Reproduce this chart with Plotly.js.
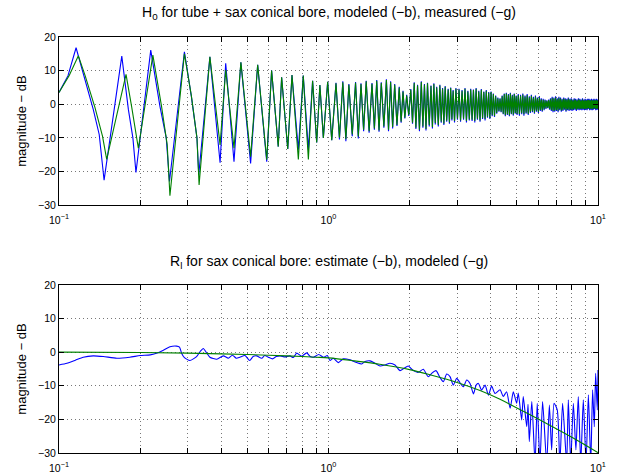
<!DOCTYPE html>
<html><head><meta charset="utf-8">
<script src="https://cdn.plot.ly/plotly-3.0.1.min.js"></script>
<style>html,body{margin:0;padding:0;background:#fff;}#chart{width:619px;height:475px;}</style>
</head><body><div id="chart"></div>
<script>
// ---------- top panel: H0 ----------
const fLowModel = [0.100,0.108,0.1157,0.123,0.134,0.141,0.147,0.171,0.181,0.188,0.193,0.219,0.237,0.250,0.257,0.292,0.310,0.325,0.330,0.363,0.396,0.4155,0.446,0.473,0.514,0.546,0.590,0.615,0.651,0.670,0.706,0.732,0.773,0.806,0.842,0.873,0.904,0.929,0.957,0.993,1.028];
const h0LowModel = [3.5,8.5,16.8,9.2,-1.5,-9.0,-22.6,14.3,-1.7,-10.0,-20.3,16.1,-0.7,-10.0,-23.0,15.6,2.2,-10.0,-21.0,14.1,-17.4,12.2,-17.1,12.5,-17.6,11.7,-17.1,10.0,-12.6,8.0,-13.3,8.7,-13.5,8.5,-13.5,7.0,-11.4,5.7,-10.0,6.7,-10.7];
const fLowMeas = [0.100,0.109,0.118,0.125,0.136,0.145,0.1503,0.1773,0.186,0.197,0.223,0.240,0.252,0.258,0.292,0.310,0.325,0.331,0.363,0.396,0.4155,0.446,0.473,0.514,0.546,0.590,0.615,0.651,0.670,0.706,0.732,0.773,0.806,0.842,0.873,0.904,0.929,0.957,0.993,1.028];
const h0LowMeas = [3.5,8.5,14.4,8.5,-1.0,-9.5,-16.4,8.9,-0.7,-13.1,14.6,-0.5,-12.0,-27.2,15.0,2.4,-10.0,-24.0,14.1,-12.1,10.2,-13.1,12.5,-15.6,11.7,-16.5,10.0,-12.6,8.0,-13.3,8.7,-16.4,8.5,-16.4,7.0,-11.4,5.7,-10.0,6.7,-10.7];

const fDense = [
1.066,1.098,1.13,1.16,1.19,1.225,1.26,1.29,1.32,1.35,
1.38,1.415,1.45,1.48,1.51,1.54,1.57,1.605,1.64,1.67,
1.70,1.73,1.76,1.795,1.83,1.86,1.89,1.92,1.95,1.985,
2.02,2.05,2.08,2.11,2.14,2.175,2.21,2.24,2.27,2.30,
2.33,2.365,2.40,2.43,2.46,2.49,2.52,2.555,2.59,2.62,
2.65,2.68,2.71,2.745,2.78,2.81,2.84,2.87,2.90,2.935,
2.97,3.01,
3.05,3.09,3.13,3.17,3.21,3.25,3.29,3.33,3.37,3.41,
3.45,3.49,3.53,3.57,3.61,3.65,3.69,3.73,3.77,3.81,
3.85,3.89,3.93,3.97,4.01,4.05,4.09,4.13,4.17,4.21,
4.25,4.29,4.33,4.37,4.41,4.45,4.49,4.53,4.57,4.61,
4.65,4.69,4.73,4.77,4.81,4.85,4.89,4.93,4.97,5.01,
5.06,5.11,5.16,5.21,5.26,5.31,5.36,5.41,5.46,5.51,
5.56,5.61,5.66,5.71,5.76,5.81,5.86,5.91,5.96,6.01,
6.06,6.11,6.16,6.21,6.26,6.31,6.36,6.41,6.46,6.51,
6.56,6.61,6.66,6.71,6.76,6.81,6.86,6.91,6.96,7.01,
7.06,7.11,7.16,7.21,7.26,7.31,7.36,7.41,7.46,7.51,
7.56,7.61,7.66,7.71,7.76,7.81,7.86,7.91,7.96,8.01,
8.06,8.11,8.16,8.21,8.26,8.31,8.36,8.41,8.46,8.51,
8.56,8.61,8.66,8.71,8.76,8.81,8.86,8.91,8.96,9.01,
9.06,9.11,9.16,9.21,9.26,9.31,9.36,9.41,9.46,9.51,
9.56,9.61,9.66,9.71,9.76,9.81,9.86,9.91,9.96,10.0];

const h0DenseModel = [
6.4,-10.5,6.8,-11.0,6.0,-9.5,6.6,-10.2,6.2,-8.0,
7.0,-8.5,6.3,-7.6,7.2,-8.2,6.5,-7.0,7.4,-8.0,
6.8,-7.2,6.0,-6.5,5.2,-5.5,4.0,-4.2,2.8,-3.5,
4.5,-5.8,6.5,-7.4,5.8,-8.0,6.8,-7.0,6.0,-7.8,
6.4,-6.6,5.6,-7.2,6.2,-6.0,5.2,-6.6,5.8,-5.5,
4.8,-6.2,5.4,-5.2,4.6,-5.8,5.0,-4.8,4.2,-5.4,
4.8,-4.6,
4.6,-5.2,4.2,-4.6,4.8,-5.4,4.0,-4.8,4.6,-5.0,
4.4,-5.4,4.8,-4.6,4.0,-5.2,4.5,-4.4,3.8,-4.8,
4.2,-4.0,3.6,-4.4,3.8,-3.6,3.2,-3.8,2.6,-2.8,
2.0,-2.2,1.8,-2.4,2.6,-3.0,3.2,-3.6,3.4,-3.2,
3.0,-3.6,3.4,-3.0,2.8,-3.4,3.2,-2.8,2.6,-3.2,
3.0,-3.4,2.8,-3.0,3.2,-3.4,2.6,-2.8,3.0,-3.2,
2.4,-2.6,2.8,-2.4,2.2,-2.8,2.6,-2.2,2.0,-2.6,
2.4,-2.0,1.8,-2.2,1.6,-1.8,1.4,-1.4,1.2,-1.2,
1.4,-1.6,1.8,-2.0,2.2,-2.4,2.0,-2.2,2.4,-2.0,
1.8,-2.4,2.2,-1.8,2.0,-2.2,1.6,-2.0,2.0,-1.6,
1.8,-2.2,1.6,-1.8,2.0,-2.0,1.6,-1.8,1.8,-2.0,
1.4,-1.8,1.8,-1.6,1.6,-2.0,1.4,-1.6,1.8,-1.8,
1.6,-1.6,1.4,-1.8,1.8,-1.6,1.4,-1.8,1.6,-1.6,
1.4,-1.8,1.6,-1.4,1.6,-1.8,1.4,-1.6,1.6,-1.8,
1.4,-1.6,1.6,-1.4,1.4,-1.8,1.6,-1.6,1.4,-1.6];

const h0DenseMeas = [
6.2,-10.0,6.5,-10.4,5.8,-9.0,6.4,-9.6,6.0,-7.6,
6.8,-8.0,6.1,-7.2,7.0,-7.8,6.3,-6.6,7.2,-7.6,
6.6,-6.8,5.8,-6.2,5.0,-5.2,3.8,-4.0,2.6,-3.2,
4.3,-5.5,6.3,-7.0,5.6,-7.6,6.6,-6.6,5.8,-7.4,
6.2,-6.2,5.4,-6.8,6.0,-5.6,5.0,-6.2,5.6,-5.2,
4.6,-5.8,5.2,-4.9,4.4,-5.4,4.8,-4.5,4.0,-5.0,
4.6,-4.3,
4.4,-4.8,4.0,-4.3,4.6,-5.0,3.8,-4.5,4.4,-4.6,
4.2,-5.0,4.6,-4.3,3.8,-4.8,4.3,-4.1,3.6,-4.4,
4.0,-3.7,3.4,-4.1,3.6,-3.3,3.0,-3.5,2.4,-2.6,
1.8,-2.0,1.6,-2.2,2.4,-2.8,3.0,-3.3,3.2,-3.0,
2.8,-3.3,3.2,-2.8,2.6,-3.1,3.0,-2.6,2.4,-2.9,
2.7,-3.0,2.5,-2.7,2.9,-3.0,2.3,-2.5,2.7,-2.9,
2.1,-2.3,2.5,-2.1,1.9,-2.5,2.3,-1.9,1.7,-2.3,
2.1,-1.7,1.5,-1.9,1.3,-1.5,1.2,-1.2,1.0,-1.0,
1.2,-1.4,1.5,-1.7,1.9,-2.0,1.7,-1.9,2.0,-1.7,
1.5,-2.0,1.9,-1.5,1.7,-1.9,1.3,-1.7,1.7,-1.3,
1.5,-1.9,1.3,-1.5,1.7,-1.7,1.3,-1.5,1.5,-1.7,
1.1,-1.5,1.5,-1.3,1.3,-1.7,1.1,-1.3,1.5,-1.5,
1.3,-1.3,1.1,-1.5,1.5,-1.3,1.1,-1.5,1.3,-1.3,
1.1,-1.5,1.3,-1.1,1.3,-1.5,1.1,-1.3,1.3,-1.5,
1.1,-1.3,1.3,-1.1,1.1,-1.5,1.3,-1.3,1.1,-1.3];

// ---------- bottom panel: R_l ----------
const fRiEst = [0.100,0.107,0.115,0.123,0.134,0.146,0.164,0.183,0.200,0.218,0.230,0.244,0.258,0.273,0.280,0.285,0.292,0.306,0.324,0.334,0.343,0.353,0.363,0.385,0.407,0.425,0.440,0.455,0.469,0.490,0.510,0.525,0.541,0.565,0.580,0.598,0.620,0.640,0.661,0.690,0.719,0.740,0.762,0.795,0.830,0.855,0.880,0.920,0.960,0.990,
1.013,1.042,1.088,1.135,1.202,1.272,1.328,1.366,1.426,1.488,1.553,1.621,1.691,1.765,1.843,1.906,1.977,2.064,2.154,2.248,2.346,2.415,2.505,2.592,2.667,2.745,2.824,2.905,2.99,3.076,3.164,3.257,3.35,3.45,3.53,3.60,3.70,3.81,3.92,4.03,4.15,4.33,4.45,4.58,4.72,4.85,4.99,5.06,5.21,5.28,5.44,5.50,5.56,5.68,5.84,5.95,6.09,6.23,6.45,6.60,6.73,6.87,7.06,7.22,7.39,7.65,7.76,7.92,8.10,8.28,8.45,8.63,8.82,9.03,9.21,9.40,9.55,9.69,9.80,9.94,10.0];
const riEstDb = [-3.8,-3.3,-2.4,-1.5,-1.1,-1.3,-1.8,-1.5,-1.0,-0.8,-0.3,0.6,1.6,1.8,1.5,-0.3,-1.6,-2.5,-1.3,0.2,1.1,-0.2,-1.5,-2.1,-1.1,-1.8,-0.9,-1.8,-1.5,-1.0,-2.5,-1.3,-1.1,-1.8,-1.0,-1.5,-2.0,-1.3,-1.1,-1.4,-1.1,-1.6,-0.3,-1.2,-0.2,-1.3,-1.5,-0.7,-1.5,-1.0,
-2.5,-1.8,-3.1,-2.0,-2.3,-3.1,-3.5,-2.8,-2.6,-3.3,-4.1,-3.8,-3.3,-3.8,-5.5,-4.8,-4.1,-5.5,-6.0,-5.1,-7.3,-6.3,-5.5,-7.5,-8.8,-6.5,-7.3,-9.8,-7.8,-9.1,-10.3,-8.3,-9.3,-12.4,-9.8,-9.3,-11.3,-9.8,-12.8,-10.1,-12.3,-11.2,-13.2,-11.8,-16.7,-11.8,-15.2,-12.2,-20.2,-13.2,-22.2,-15.5,-26.6,-14.7,-33,-15.2,-33,-14.7,-33,-15.7,-29.1,-15.2,-17.2,-33,-15.2,-33,-14.2,-33,-15.2,-29.1,-13.2,-33,-14.2,-33,-12.7,-33,-11.2,-22.2,-6.3,-17.2,-5.3];

const fRiMod = [0.1,0.2,0.3,0.4,0.5,0.6,0.7,0.8,0.9,1.0,1.25,1.55,2.0,2.4,3.0,3.65,4.33,5.0,6.0,7.0,8.0,9.0,10.0];
const riModDb = [0,-0.1,-0.3,-0.5,-0.7,-0.9,-1.1,-1.3,-1.5,-1.7,-2.6,-3.6,-5.2,-6.8,-9.0,-11.4,-14.0,-16.6,-19.9,-22.8,-25.3,-27.7,-29.9];

// ---------- ticks & titles ----------
const xTickVals = [0.1,0.2,0.3,0.4,0.5,0.6,0.7,0.8,0.9,1,2,3,4,5,6,7,8,9,10];
const xTickText = ['10<sup>−1</sup>','','','','','','','','','10<sup>0</sup>','','','','','','','','','10<sup>1</sup>'];
const yTickVals = [-30,-20,-10,0,10,20];
const yTickText = ['−30','−20','−10','0','10','20'];
const titleTop = 'H<sub>0</sub> for tube + sax conical bore, modeled (−b), measured (−g)';
const titleBottom = 'R<sub>l</sub> for sax conical bore: estimate (−b), modeled (−g)';
const yLabel = 'magnitude − dB';

const FONT = 'Liberation Sans, Arial, Helvetica, sans-serif';
const blue = '#0000ff', green = '#008000';

const traces = [
  {x: fLowModel.concat(fDense), y: h0LowModel.concat(h0DenseModel), xaxis:'x', yaxis:'y', mode:'lines', line:{color:blue, width:1.1}},
  {x: fLowMeas.concat(fDense), y: h0LowMeas.concat(h0DenseMeas), xaxis:'x', yaxis:'y', mode:'lines', line:{color:green, width:1.1}},
  {x: fRiEst, y: riEstDb, xaxis:'x2', yaxis:'y2', mode:'lines', line:{color:blue, width:1.1, shape:'spline', smoothing:0.6}},
  {x: fRiMod, y: riModDb, xaxis:'x2', yaxis:'y2', mode:'lines', line:{color:green, width:1.1, shape:'spline'}}
];

function xa(anchor){
  return {type:'log', range:[-1,1], anchor:anchor, tickmode:'array', tickvals:xTickVals, ticktext:xTickText,
    ticks:'inside', ticklen:5, tickcolor:'#000', tickwidth:1, showline:true, linecolor:'#000', linewidth:1, mirror:'ticks',
    showgrid:true, gridcolor:'#777', griddash:'1px,3px', gridwidth:1, zeroline:false, ticklabelstandoff:5,
    tickfont:{family:FONT, size:10.5, color:'#000'}, fixedrange:true};
}
function ya(anchor, domain){
  return {range:[-30,20], domain:domain, anchor:anchor, tickmode:'array', tickvals:yTickVals, ticktext:yTickText,
    ticks:'inside', ticklen:5, tickcolor:'#000', tickwidth:1, showline:true, linecolor:'#000', linewidth:1, mirror:'ticks',
    showgrid:true, gridcolor:'#777', griddash:'1px,3px', gridwidth:1, zeroline:false,
    tickfont:{family:FONT, size:10.5, color:'#000'},
    title:{text:yLabel, font:{family:FONT, size:13, color:'#000'}, standoff:8}, fixedrange:true};
}

const layout = {
  width:619, height:475, paper_bgcolor:'#fff', plot_bgcolor:'#fff', showlegend:false,
  margin:{l:59, r:21, t:37, b:22},
  xaxis: xa('y'), yaxis: ya('x', [0.596, 1]),
  xaxis2: xa('y2'), yaxis2: ya('x2', [0, 0.404]),
  annotations:[
    {text:titleTop, xref:'paper', yref:'paper', x:0.5, y:1.058, xanchor:'center', yanchor:'middle', showarrow:false, font:{family:FONT, size:14, color:'#000'}},
    {text:titleBottom, xref:'paper', yref:'paper', x:0.5, y:0.459, xanchor:'center', yanchor:'middle', showarrow:false, font:{family:FONT, size:14, color:'#000'}}
  ]
};
Plotly.newPlot('chart', traces, layout, {staticPlot:true, displayModeBar:false});
</script></body></html>
